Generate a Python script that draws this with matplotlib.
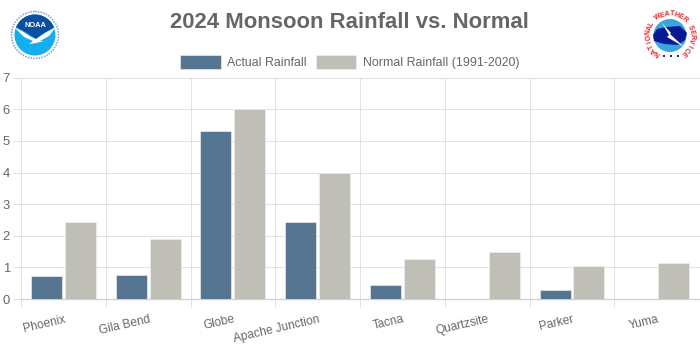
from matplotlib import pyplot as plt
from matplotlib.patches import Circle, Polygon, Rectangle
import matplotlib.ticker as ticker
import matplotlib.transforms as transforms
import numpy as np

plt.rcParams['font.family'] = ['Liberation Sans', 'DejaVu Sans']

stations = ['Phoenix', 'Gila Bend', 'Globe', 'Apache Junction', 'Tacna', 'Quartzsite', 'Parker', 'Yuma']
actual = [0.73, 0.75, 5.30, 2.42, 0.43, 0, 0.27, 0]
normal = [2.43, 1.91, 6.00, 3.97, 1.27, 1.48, 1.03, 1.13]
y_ticks = [0, 1, 2, 3, 4, 5, 6, 7]

grid_col = '#e1e1e1'
text_col = '#666666'
W, H = 700, 350

fig = plt.figure(figsize=(7, 3.5), dpi=100)
ax = fig.add_axes([21 / W, 1 - 299 / H, (700 - 21) / W, (299 - 77.7) / H])

x = np.arange(len(stations))
bar_w = 0.365
ax.bar(x - 0.2, actual, bar_w, color='#557591', edgecolor='#e8edf1', lw=0.5, label='Actual Rainfall', zorder=3)
ax.bar(x + 0.2, normal, bar_w, color='#bfbfb7', edgecolor='#eeeeea', lw=0.5, label='Normal Rainfall (1991-2020)', zorder=3)

ax.set_xlim(-0.5, len(stations) - 0.5 + 0.01)
ax.set_ylim(0, 7)
ax.set_yticks(y_ticks)
ax.set_xticks(x)
ax.set_xticklabels(stations, rotation=13, ha='right', rotation_mode='anchor')
ax.xaxis.set_minor_locator(ticker.FixedLocator(np.arange(len(stations)) - 0.5))
ax.tick_params(axis='x', which='major', length=0, pad=10.5, labelsize=8.6, labelcolor=text_col)
ax.tick_params(axis='x', which='minor', length=6, color=grid_col, width=0.72)
ax.tick_params(axis='y', length=6, color=grid_col, width=0.72, pad=2, labelsize=9.4, labelcolor=text_col)
# labels sit a touch right of the category centre
shift = transforms.ScaledTranslation(0.3 / 100, 0, fig.dpi_scale_trans)
for lab in ax.get_xticklabels():
    lab.set_transform(lab.get_transform() + shift)
ax.grid(True, which='minor', axis='x', color=grid_col, lw=0.72, zorder=0)
ax.grid(True, which='major', axis='y', color=grid_col, lw=0.72, zorder=0)
ax.set_axisbelow(True)
for side in ['top', 'right']:
    ax.spines[side].set_visible(False)
ax.spines['left'].set_color(grid_col)
ax.spines['left'].set_linewidth(0.72)
ax.spines['bottom'].set_color('#cfcfcf')
ax.spines['bottom'].set_linewidth(0.9)

fig.text(349.5 / W, 1 - 22.5 / H, '2024 Monsoon Rainfall vs. Normal', ha='center', va='center',
         fontsize=15.95, fontweight='bold', color=text_col)

leg = fig.legend(loc='center', bbox_to_anchor=(349.5 / W, 1 - 62 / H), ncol=2, frameon=False,
                 fontsize=8.9, labelcolor=text_col, handlelength=3.3, handleheight=1.3,
                 handletextpad=0.5, columnspacing=0.75)

# logos, drawn in pixel coordinates over the whole figure
logo = fig.add_axes([0, 0, 1, 1], facecolor='none')
logo.set_xlim(0, W)
logo.set_ylim(H, 0)
logo.axis('off')

# noaa
logo.add_patch(Circle((35, 35), 23.5, fc='none', ec='#7f9fd0', lw=1.1, ls=(0, (1, 0.8))))
logo.add_patch(Circle((35, 35), 20.5, fc='#14aef0', ec='none'))
top = Circle((35, 35), 20.5, fc='#0a4fa0', ec='none')
logo.add_patch(top)
top.set_clip_path(Polygon([[10, 5], [60, 5], [60, 24], [44, 33], [36, 39], [27, 33], [10, 24]],
                          transform=logo.transData))
logo.add_patch(Polygon([[14, 27], [22, 31], [31, 37], [36, 39], [45, 33], [56, 27], [49, 36], [40, 41],
                        [44, 41], [36, 43], [29, 44], [33, 41], [24, 37]], fc='white', ec='none'))
logo.text(35, 25.5, 'NOAA', ha='center', va='center', fontsize=5.4, fontweight='bold', color='white')

# nws
nws = 'NATIONAL WEATHER SERVICE'
angles = np.linspace(235, -52, len(nws))
for ch, ang in zip(nws, angles):
    px = 670 + 21.5 * np.cos(np.radians(ang))
    py = 35.5 - 21.5 * np.sin(np.radians(ang))
    logo.text(px, py, ch, ha='center', va='center', fontsize=5, fontweight='bold', color='#e8202a',
              rotation=ang - 90)
logo.add_patch(Circle((670, 35.5), 16.5, fc='#3aa6dc', ec='none'))
logo.add_patch(Polygon([[653, 35], [657, 29], [666, 27], [680, 26], [687, 33], [685, 40], [678, 45],
                        [664, 44], [654, 41]], fc='#0a1a96', ec='none'))
logo.add_patch(Polygon([[662, 23], [671, 33], [670, 34], [684, 47], [667, 37], [669, 35]], fc='white', ec='none'))
for px in [663, 670, 677]:
    logo.add_patch(Rectangle((px, 55), 2, 2, fc='#1a2aa0', ec='none'))

fig.savefig('out.png', dpi=100)
